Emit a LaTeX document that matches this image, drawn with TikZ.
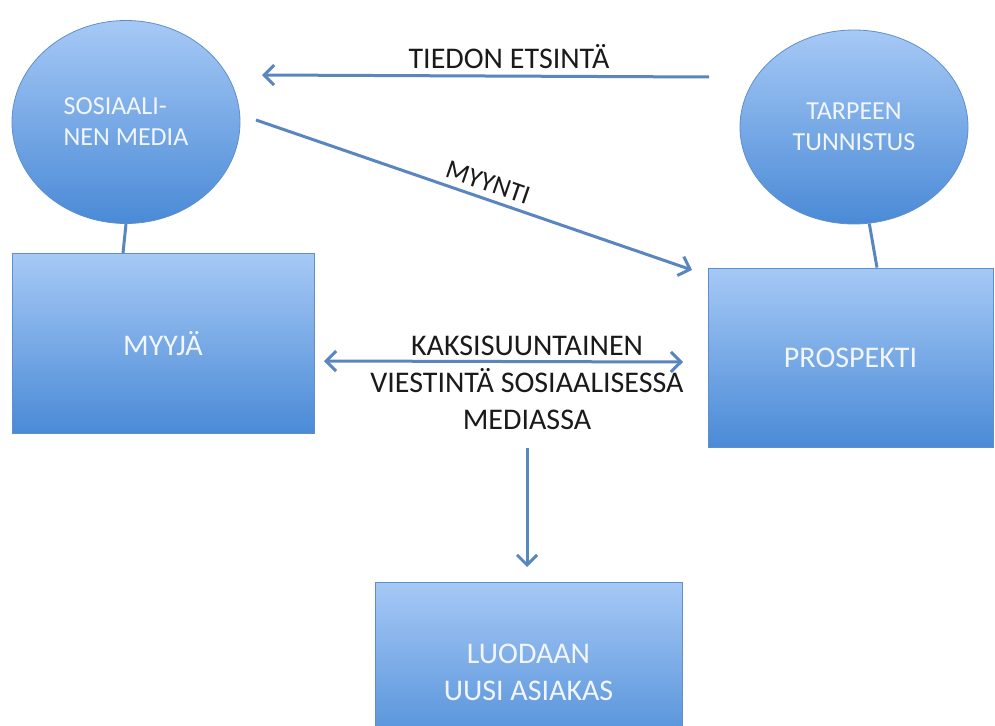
\documentclass[tikz,border=0pt]{standalone}
\usepackage{fontspec}
\setmainfont{Carlito}
\usetikzlibrary{shapes.geometric,arrows.meta,calc}
\definecolor{shtop}{HTML}{A6C9F6}
\definecolor{shbot}{HTML}{4A8AD6}
\definecolor{shedge}{HTML}{5F8FCB}
\definecolor{arr}{HTML}{5A86BF}
\definecolor{lbl}{HTML}{1A1A1A}
\definecolor{wtxt}{HTML}{F2F6FC}
\tikzset{
  x=1pt, y=-1pt,
  mybarb/.tip={Straight Barb[length=10pt,width=20pt,line width=3pt]},
  shapebase/.style={draw=shedge, line width=0.8pt, top color=shtop, bottom color=shbot,
    text=wtxt, inner sep=0pt},
  bubble/.style={shapebase, ellipse, font=\fontsize{26}{31}\selectfont},
  boxnode/.style={shapebase, rectangle, font=\fontsize{30}{37}\selectfont},
  conn/.style={draw=arr, line width=3pt},
  arrline/.style={draw=arr, line width=3pt, -{mybarb}},
  darrline/.style={draw=arr, line width=3pt, {mybarb}-{mybarb}},
  lab/.style={text=lbl, font=\fontsize{30}{37}\selectfont, inner sep=0pt, align=center}
}
\begin{document}
\begin{tikzpicture}
\useasboundingbox (0,0) rectangle (995,725);
\clip (0,0) rectangle (995,725);
\fill[white] (0,0) rectangle (995,725);

% shapes
\node[bubble, minimum width=228pt, minimum height=203pt, align=left] (lc) at (126,122) {SOSIAALI-\\NEN MEDIA};
\node[bubble, minimum width=228pt, minimum height=194pt, align=center] (rc) at (854,127) {TARPEEN\\TUNNISTUS};
\node[boxnode, minimum width=302pt, minimum height=180pt] (lb) at (163,343.5) {MYYJÄ};
\node[boxnode, minimum width=285pt, minimum height=179pt] (rb) at (850.5,357.5) {PROSPEKTI};
\node[boxnode, minimum width=307pt, minimum height=180pt, align=center] (bb) at (528.5,672) {LUODAAN\\UUSI ASIAKAS};

% circle-to-box connectors
\draw[conn] (lc.south) -- ([xshift=-40pt]lb.north);
\draw[conn] (rc.-81) -- ([xshift=26.5pt]rb.north);

% free ends
\coordinate (tStart) at (709,77);
\coordinate (tEnd) at (262,75);
\coordinate (mStart) at (256,120);
\coordinate (mEnd) at (692,270);
\coordinate (dStart) at (324,361);
\coordinate (dEnd) at (683,362);
\coordinate (vStart) at (527,448);
\coordinate (vEnd) at (527,567);

% arrows
\draw[arrline] (tStart) -- (tEnd);
\node[lab] (tlab) at (509,57) {TIEDON ETSINTÄ};

\draw[arrline] (mStart) -- (mEnd) node[lab, sloped, pos=0.52, above=6pt, font=\fontsize{27}{30}\selectfont] (mlab) {MYYNTI};

\draw[darrline] (dStart) -- (dEnd);
\node[lab] (dlab) at (527,383) {KAKSISUUNTAINEN\\VIESTINTÄ SOSIAALISESSA\\MEDIASSA};

\draw[arrline] (vStart) -- (vEnd);
\end{tikzpicture}
\end{document}
